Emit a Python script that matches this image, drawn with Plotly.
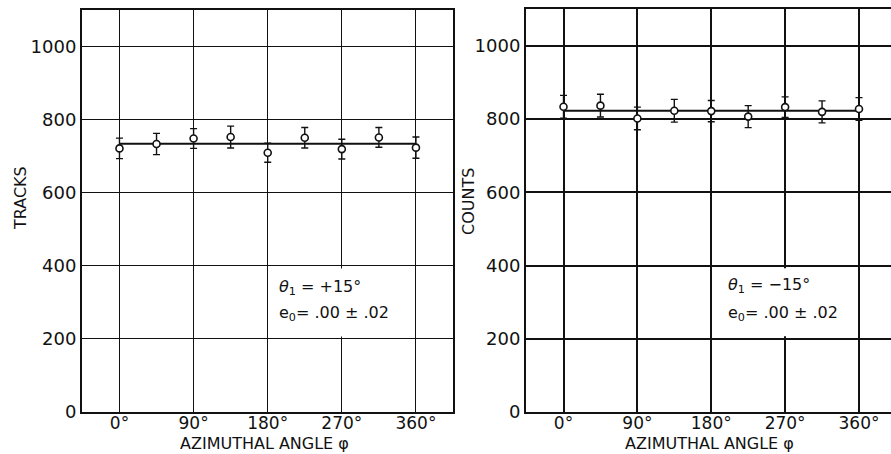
import plotly.graph_objects as go

# Azimuthal distributions for two polar settings
angles = [0, 45, 90, 135, 180, 225, 270, 315, 360]

tracks = [722, 734, 749, 753, 710, 751, 720, 752, 724]
tracks_err = [28, 29, 27, 30, 26, 28, 27, 27, 29]
tracks_fit = 735

counts = [834, 837, 802, 823, 822, 807, 833, 820, 828]
counts_err = [31, 31, 31, 31, 29, 30, 28, 30, 31]
counts_fit = 823

x_ticks = [0, 90, 180, 270, 360]
x_ticklabels = ["0°", "90°", "180°", "270°", "360°"]
y_ticks = [0, 200, 400, 600, 800, 1000]
y_ticklabels = ["0", "200", "400", "600", "800", "1000"]

W, H = 891, 454
INK = "#111111"
FONT = "DejaVu Sans"


def px(x):
    return x / W


def py(y):
    return 1 - y / H


fig = go.Figure()

panels = [
    dict(x="x", y="y", vals=tracks, err=tracks_err, fit=tracks_fit),
    dict(x="x2", y="y2", vals=counts, err=counts_err, fit=counts_fit),
]

for p in panels:
    fig.add_trace(go.Scatter(
        x=[angles[0], angles[-1]], y=[p["fit"], p["fit"]],
        mode="lines", line=dict(color=INK, width=2),
        xaxis=p["x"], yaxis=p["y"], showlegend=False, hoverinfo="skip",
    ))
    fig.add_trace(go.Scatter(
        x=angles, y=p["vals"], mode="markers",
        marker=dict(symbol="circle", size=7, color="white",
                    line=dict(color=INK, width=1.6)),
        error_y=dict(type="data", array=p["err"], visible=True,
                     color=INK, thickness=1.4, width=3.5),
        xaxis=p["x"], yaxis=p["y"], showlegend=False,
    ))

common_x = dict(
    tickmode="array", tickvals=x_ticks, ticktext=x_ticklabels,
    ticks="", showgrid=True, gridcolor=INK, zeroline=False,
    showline=True, linecolor=INK, linewidth=2, mirror=True,
    tickfont=dict(family=FONT, size=17, color=INK),
    ticklabelstandoff=-5,
    automargin=False, fixedrange=True,
)
common_y = dict(
    tickmode="array", tickvals=y_ticks, ticktext=y_ticklabels,
    ticks="", showgrid=True, gridcolor=INK, zeroline=False,
    showline=True, linecolor=INK, linewidth=2,
    tickfont=dict(family=FONT, size=18, color=INK),
    automargin=False, range=[0, 1101], fixedrange=True,
)

fig.update_layout(
    width=W, height=H,
    margin=dict(l=0, r=0, t=0, b=0),
    paper_bgcolor="white", plot_bgcolor="white",
    template="none",
    xaxis=dict(common_x, domain=[px(82), px(453)], range=[-45.5, 405],
               gridwidth=1.3, anchor="y"),
    yaxis=dict(common_y, domain=[py(412), py(10)], gridwidth=1.3,
               mirror=True, anchor="x"),
    xaxis2=dict(common_x, domain=[px(526), 1.0], range=[-45.7, 399],
                gridwidth=1.9, anchor="y2"),
    yaxis2=dict(common_y, domain=[py(412), py(9)], gridwidth=1.9,
                mirror=False, anchor="x2"),
)

# Clear the 270° grid line inside the parameter box of each panel
for xr, yr in [("x", "y"), ("x2", "y2")]:
    fig.add_shape(type="rect", xref=xr, yref=yr,
                  x0=184, x1=356, y0=207, y1=393,
                  fillcolor="white", line=dict(width=0), layer="between")

ann = []
title_font = dict(family=FONT, size=16, color=INK)
ann.append(dict(text="AZIMUTHAL ANGLE φ", x=px(264), y=py(443),
                xref="paper", yref="paper", showarrow=False,
                font=title_font, xanchor="center", yanchor="middle"))
ann.append(dict(text="AZIMUTHAL ANGLE φ", x=px(709), y=py(443),
                xref="paper", yref="paper", showarrow=False,
                font=title_font, xanchor="center", yanchor="middle"))
ann.append(dict(text="TRACKS", x=px(20), y=py(198), textangle=-90,
                xref="paper", yref="paper", showarrow=False,
                font=dict(family=FONT, size=16, color=INK),
                xanchor="center", yanchor="middle"))
ann.append(dict(text="COUNTS", x=px(468), y=py(202), textangle=-90,
                xref="paper", yref="paper", showarrow=False,
                font=dict(family=FONT, size=16, color=INK),
                xanchor="center", yanchor="middle"))

box_font = dict(family=FONT, size=16, color=INK)
ann.append(dict(text="<i>θ</i><sub>1</sub> = +15°", x=px(277), y=py(287),
                xref="paper", yref="paper", showarrow=False, font=box_font,
                xanchor="left", yanchor="middle"))
ann.append(dict(text="e<sub>0</sub>= .00 ± .02", x=px(277), y=py(313),
                xref="paper", yref="paper", showarrow=False, font=box_font,
                xanchor="left", yanchor="middle"))
ann.append(dict(text="<i>θ</i><sub>1</sub> = −15°", x=px(726), y=py(285),
                xref="paper", yref="paper", showarrow=False, font=box_font,
                xanchor="left", yanchor="middle"))
ann.append(dict(text="e<sub>0</sub>= .00 ± .02", x=px(726), y=py(313),
                xref="paper", yref="paper", showarrow=False, font=box_font,
                xanchor="left", yanchor="middle"))
fig.update_layout(annotations=ann)

fig.write_html("out.html")
